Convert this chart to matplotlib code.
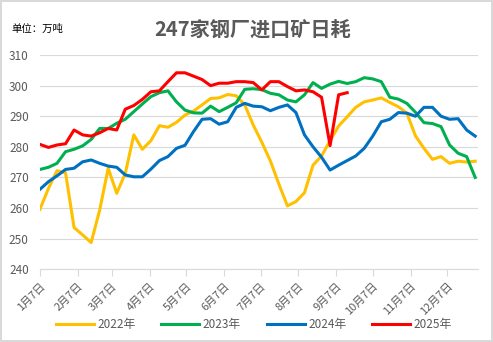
import numpy as np
import matplotlib
matplotlib.use("Agg")
import matplotlib.pyplot as plt

plt.rcParams['font.family'] = ['Noto Sans CJK SC', 'DejaVu Sans']

# weekly daily consumption of imported ore, 247 steel mills (10k t)
y2022 = [259.6, 266.4, 272.2, 271.5, 253.6, 251.2, 248.7, 259.3, 273.0, 264.8,
         271.3, 283.9, 279.2, 282.0, 286.9, 286.4, 288.0, 290.4, 291.7, 293.7,
         295.8, 296.0, 297.1, 296.7, 293.7, 287.1, 281.5, 275.4, 267.8, 260.7,
         262.1, 265.0, 274.0, 277.0, 282.0, 286.8, 289.8, 292.9, 294.7, 295.3,
         296.0, 294.5, 293.1, 291.0, 283.6, 279.5, 275.9, 276.8, 274.6, 275.3,
         275.0, 275.3]
y2023 = [272.6, 273.3, 274.6, 278.4, 279.2, 280.3, 282.4, 286.0, 286.0, 287.7,
         289.0, 291.5, 294.0, 296.4, 297.7, 298.3, 294.7, 292.0, 291.1, 291.0,
         293.3, 291.5, 292.9, 294.4, 298.8, 299.0, 298.7, 297.5, 297.0, 295.3,
         294.7, 297.0, 301.0, 299.1, 300.5, 301.4, 300.7, 301.3, 302.6, 302.2,
         301.3, 296.2, 295.6, 294.2, 291.3, 287.9, 287.6, 286.6, 280.6, 277.9,
         276.8, 270.0]
y2024 = [266.1, 268.6, 270.5, 272.6, 273.0, 275.1, 275.7, 274.6, 273.7, 273.3,
         270.8, 270.2, 270.2, 272.7, 275.5, 276.8, 279.5, 280.5, 285.0, 289.0,
         289.2, 287.4, 288.2, 292.9, 294.2, 293.3, 293.1, 291.8, 292.9, 293.7,
         291.2, 283.9, 280.0, 276.6, 272.4, 274.0, 275.5, 277.0, 279.5, 283.5,
         288.2, 289.0, 291.2, 291.0, 290.0, 292.9, 292.9, 290.0, 289.0, 289.2,
         285.5, 283.5]
y2025 = [280.8, 279.8, 280.6, 281.0, 285.5, 283.9, 283.5, 284.6, 286.0, 285.5,
         292.3, 293.5, 295.5, 298.0, 298.3, 301.3, 304.2, 304.2, 303.1, 302.0,
         300.0, 300.8, 300.8, 301.3, 301.3, 301.0, 298.6, 301.3, 301.3, 299.7,
         298.3, 298.6, 298.0, 296.2, 280.4, 297.0, 297.7]

years = ['2022年', '2023年', '2024年', '2025年']
colors = ['#FFC000', '#00B050', '#0070C0', '#FF0000']

# x axis in days counted from Jan 7
tick_days = [0, 31, 59, 90, 120, 151, 181, 212, 243, 273, 304, 334]
tick_labels = [f'{m}月7日' for m in range(1, 13)]

fig = plt.figure(figsize=(4.93, 3.42), dpi=100)
fig.patch.set_edgecolor('#d9d9d9')
fig.patch.set_linewidth(1.5)
ax = fig.add_axes([0.081, 0.213, 0.889, 0.626])

for vals, lab, c in zip([y2022, y2023, y2024, y2025], years, colors):
    days = np.arange(len(vals)) * 7
    ax.plot(days, vals, color=c, lw=2.2, label=lab, solid_joinstyle='round')

ax.set_xlim(0, 359.5)
ax.set_ylim(240, 310)
ax.set_yticks(range(240, 311, 10))
ax.yaxis.grid(True, color='#d9d9d9', lw=0.8)
ax.set_axisbelow(True)
for s in ['left', 'right', 'top']:
    ax.spines[s].set_visible(False)
ax.spines['bottom'].set_color('#d9d9d9')
ax.tick_params(axis='y', length=0, labelsize=8.5, labelcolor='#595959', pad=8)
ax.tick_params(axis='x', length=5, color='#d9d9d9', labelsize=8, labelcolor='#595959')
ax.set_xticks(tick_days)
ax.set_xticklabels(tick_labels, rotation=45, ha='right', rotation_mode='anchor')

fig.text(0.513, 0.915, '247家钢厂进口矿日耗', ha='center', va='center',
         fontsize=14.5, fontweight='bold', color='#595959')
fig.text(0.024, 0.915, '单位：万吨', ha='left', va='center', fontsize=7.5, color='#000000')

fig.legend(loc='lower center', bbox_to_anchor=(0.515, 0.0), ncol=4, frameon=False,
           fontsize=8.5, handlelength=3.2, columnspacing=2.2, handletextpad=0.3,
           labelcolor='#595959')

fig.savefig('out.png', dpi=100)
